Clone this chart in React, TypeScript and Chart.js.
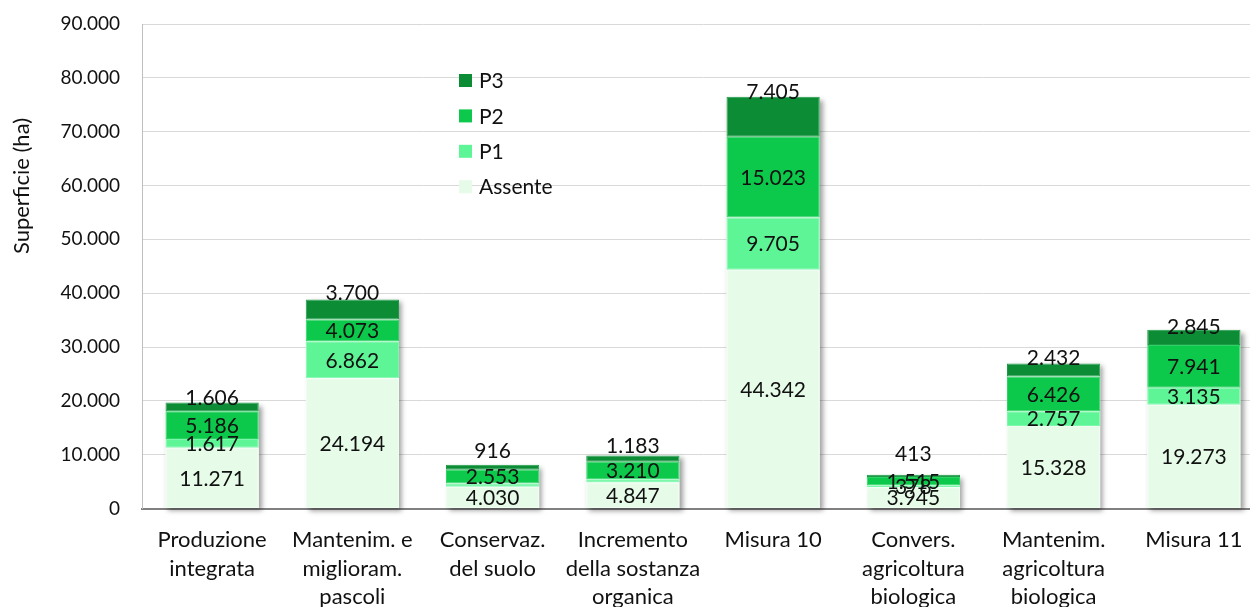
import { useEffect, useRef } from 'react';
import { Chart, registerables } from 'chart.js';

Chart.register(...registerables);

// Categorie (etichette su più righe)
const categories: string[][] = [
  ['Produzione', 'integrata'],
  ['Mantenim. e', 'miglioram.', 'pascoli'],
  ['Conservaz.', 'del suolo'],
  ['Incremento', 'della sostanza', 'organica'],
  ['Misura 10'],
  ['Convers.', 'agricoltura', 'biologica'],
  ['Mantenim.', 'agricoltura', 'biologica'],
  ['Misura 11'],
];

// Superficie (ha) per classe di priorità
const assente = [11271, 24194, 4030, 4847, 44342, 3945, 15328, 19273];
const p1 = [1617, 6862, 620, 606, 9705, 378, 2757, 3135];
const p2 = [5186, 4073, 2553, 3210, 15023, 1515, 6426, 7941];
const p3 = [1606, 3700, 916, 1183, 7405, 413, 2432, 2845];

const seriesNames = ['Assente', 'P1', 'P2', 'P3'];

// Asse Y
const yMin = 0;
const yMax = 90000;
const yStep = 10000;

// Etichette non mostrate: [serie, categoria]
const hiddenLabels: [number, number][] = [
  [1, 2],
  [1, 3],
];

// Distanza (px) dell'etichetta P3 sopra la colonna
const p3LabelLift = [5, 7, 15, 10.5, 6, 21.5, 6.5, 4];

const fillColors = ['#e6fbe8', '#5ef596', '#0cc84b', '#0b8c35'];
const edgeColors = ['#effdf1', '#7cf8aa', '#2dd463', '#1f9a47'];

const FONT = 'Lato, "Open Sans", sans-serif';

const fmt = (v: number) =>
  String(Math.round(v)).replace(/\B(?=(\d{3})+(?!\d))/g, '.');

const shadowPlugin = {
  id: 'barShadow',
  beforeDatasetsDraw(chart: any) {
    const ctx = chart.ctx;
    const metas = chart.getSortedVisibleDatasetMetas();
    const n = chart.data.labels.length;
    ctx.save();
    ctx.shadowColor = 'rgba(0,0,0,0.38)';
    ctx.shadowBlur = 5;
    ctx.shadowOffsetX = 3;
    ctx.shadowOffsetY = 3;
    ctx.fillStyle = '#ffffff';
    for (let j = 0; j < n; j++) {
      let top = Infinity;
      let base = -Infinity;
      let x = 0;
      let w = 0;
      for (const meta of metas) {
        const el = meta.data[j];
        if (!el) continue;
        top = Math.min(top, el.y, el.base);
        base = Math.max(base, el.y, el.base);
        x = el.x;
        w = el.width;
      }
      ctx.fillRect(x - w / 2, top, w, base - top);
    }
    ctx.restore();
  },
};

const labelPlugin = {
  id: 'segmentLabels',
  afterDatasetsDraw(chart: any) {
    const ctx = chart.ctx;
    ctx.save();
    ctx.font = `21px ${FONT}`;
    ctx.fillStyle = '#111111';
    ctx.textAlign = 'center';
    ctx.textBaseline = 'middle';
    chart.data.datasets.forEach((ds: any, d: number) => {
      const meta = chart.getDatasetMeta(d);
      ds.data.forEach((v: number, j: number) => {
        if (hiddenLabels.some(([s, c]) => s === d && c === j)) return;
        const el = meta.data[j];
        let y: number;
        if (d === chart.data.datasets.length - 1) {
          y = Math.min(el.y, el.base) - p3LabelLift[j];
        } else {
          y = (el.y + el.base) / 2;
        }
        ctx.fillText(fmt(v), el.x, y + 1);
      });
    });
    ctx.restore();
  },
};

const legendPlugin = {
  id: 'innerLegend',
  afterDraw(chart: any) {
    const ctx = chart.ctx;
    const ds = chart.data.datasets;
    ctx.save();
    ctx.font = `21px ${FONT}`;
    ctx.textAlign = 'left';
    ctx.textBaseline = 'middle';
    const x0 = 459;
    const y0 = 80.5;
    const gap = 35.4;
    for (let k = 0; k < ds.length; k++) {
      const i = ds.length - 1 - k;
      const cy = y0 + k * gap;
      ctx.fillStyle = ds[i].backgroundColor;
      ctx.fillRect(x0, cy - 6.5, 13, 13);
      ctx.fillStyle = '#111111';
      ctx.fillText(ds[i].label, x0 + 20, cy + 1);
    }
    ctx.restore();
  },
};

const axisTitlePlugin = {
  id: 'yTitle',
  afterDraw(chart: any) {
    const ctx = chart.ctx;
    ctx.save();
    ctx.translate(22, 186);
    ctx.rotate(-Math.PI / 2);
    ctx.font = `22px ${FONT}`;
    ctx.fillStyle = '#111111';
    ctx.textAlign = 'center';
    ctx.textBaseline = 'middle';
    ctx.fillText('Superficie (ha)', 0, 0);
    ctx.restore();
  },
};

export default function App() {
  const canvasRef = useRef<HTMLCanvasElement | null>(null);

  useEffect(() => {
    if (!canvasRef.current) return;
    const values = [assente, p1, p2, p3];
    const chart = new Chart(canvasRef.current, {
      type: 'bar',
      data: {
        labels: categories,
        datasets: values.map((data, i) => ({
          label: seriesNames[i],
          data,
          backgroundColor: fillColors[i],
          borderColor: edgeColors[i],
          borderWidth: 1,
          borderSkipped: false,
          barPercentage: 0.665,
          categoryPercentage: 1,
          stack: 'tot',
        })),
      },
      options: {
        responsive: false,
        animation: false,
        devicePixelRatio: 1,
        layout: { padding: { left: 0, right: 16, top: 24, bottom: 0 } },
        plugins: {
          legend: { display: false },
          tooltip: { enabled: false },
          title: { display: false },
        },
        scales: {
          x: {
            stacked: true,
            grid: { display: false, drawTicks: false },
            border: { display: true, color: '#808080', width: 2 },
            ticks: {
              color: '#111111',
              font: { family: FONT, size: 22, lineHeight: 28.5 / 22 },
              padding: 17.25,
              maxRotation: 0,
              autoSkip: false,
            },
            afterFit: (s: any) => {
              s.height = 98.5;
            },
          },
          y: {
            stacked: true,
            min: yMin,
            max: yMax,
            ticks: {
              stepSize: yStep,
              color: '#111111',
              font: { family: FONT, size: 19 },
              padding: 22,
              callback: (v: any) => fmt(Number(v)),
            },
            grid: {
              drawTicks: false,
              lineWidth: 1,
              color: (c: any) => (c.tick && c.tick.value === 0 ? 'rgba(0,0,0,0)' : '#d9d9d9'),
            },
            border: { color: '#bfbfbf', width: 1 },
            afterFit: (s: any) => {
              s.width = 142;
              s.paddingTop = 0;
              s.paddingBottom = 0;
            },
          },
        },
      },
      plugins: [shadowPlugin, labelPlugin, legendPlugin, axisTitlePlugin],
    });
    return () => chart.destroy();
  }, []);

  return (
    <div
      style={{
        position: 'fixed',
        left: 0,
        top: 0,
        width: 1250,
        height: 607,
        overflow: 'hidden',
        background: '#ffffff',
      }}
    >
      <canvas ref={canvasRef} width={1280} height={607} style={{ display: 'block' }} />
    </div>
  );
}
